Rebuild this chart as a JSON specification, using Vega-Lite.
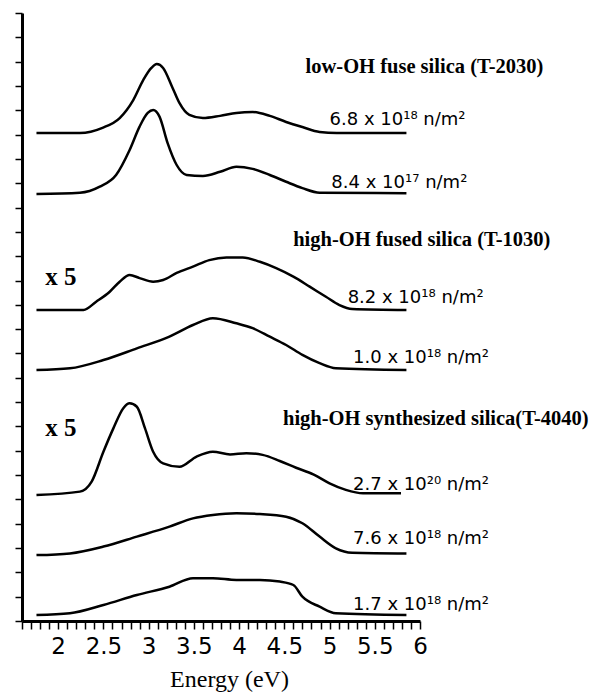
{
  "$schema": "https://vega.github.io/schema/vega-lite/v6.json",
  "width": 398,
  "height": 608,
  "autosize": {"type": "none"},
  "padding": {"left": 22, "top": 13, "right": 174, "bottom": 74},
  "background": "white",
  "config": {"view": {"stroke": null}},
  "datasets": {
    "curves": [
      {"s": "c1", "e": 1.76, "v": 20.07}, {"s": "c1", "e": 2.24, "v": 20.07}, {"s": "c1", "e": 2.49, "v": 20.28}, {"s": "c1", "e": 2.68, "v": 20.68}, {"s": "c1", "e": 2.83, "v": 21.42}, {"s": "c1", "e": 2.94, "v": 22.24}, {"s": "c1", "e": 3.03, "v": 22.74}, {"s": "c1", "e": 3.09, "v": 22.9}, {"s": "c1", "e": 3.16, "v": 22.74}, {"s": "c1", "e": 3.26, "v": 21.96}, {"s": "c1", "e": 3.34, "v": 21.3}, {"s": "c1", "e": 3.45, "v": 20.81}, {"s": "c1", "e": 3.6, "v": 20.68}, {"s": "c1", "e": 3.79, "v": 20.77}, {"s": "c1", "e": 3.97, "v": 20.89}, {"s": "c1", "e": 4.15, "v": 20.93}, {"s": "c1", "e": 4.34, "v": 20.77}, {"s": "c1", "e": 4.52, "v": 20.52}, {"s": "c1", "e": 4.7, "v": 20.31}, {"s": "c1", "e": 4.89, "v": 20.11}, {"s": "c1", "e": 5.08, "v": 20.07}, {"s": "c1", "e": 5.85, "v": 20.07},
      {"s": "c2", "e": 1.76, "v": 17.56}, {"s": "c2", "e": 2.24, "v": 17.61}, {"s": "c2", "e": 2.46, "v": 17.86}, {"s": "c2", "e": 2.64, "v": 18.34}, {"s": "c2", "e": 2.79, "v": 19.37}, {"s": "c2", "e": 2.9, "v": 20.33}, {"s": "c2", "e": 2.99, "v": 20.89}, {"s": "c2", "e": 3.05, "v": 21.01}, {"s": "c2", "e": 3.12, "v": 20.74}, {"s": "c2", "e": 3.21, "v": 19.65}, {"s": "c2", "e": 3.31, "v": 18.75}, {"s": "c2", "e": 3.42, "v": 18.34}, {"s": "c2", "e": 3.6, "v": 18.3}, {"s": "c2", "e": 3.79, "v": 18.47}, {"s": "c2", "e": 3.97, "v": 18.68}, {"s": "c2", "e": 4.15, "v": 18.59}, {"s": "c2", "e": 4.34, "v": 18.34}, {"s": "c2", "e": 4.52, "v": 18.06}, {"s": "c2", "e": 4.7, "v": 17.8}, {"s": "c2", "e": 4.89, "v": 17.61}, {"s": "c2", "e": 5.85, "v": 17.59},
      {"s": "c3", "e": 1.76, "v": 12.79}, {"s": "c3", "e": 2.28, "v": 12.79}, {"s": "c3", "e": 2.42, "v": 13.13}, {"s": "c3", "e": 2.57, "v": 13.54}, {"s": "c3", "e": 2.68, "v": 13.95}, {"s": "c3", "e": 2.79, "v": 14.23}, {"s": "c3", "e": 2.9, "v": 14.1}, {"s": "c3", "e": 3.05, "v": 13.95}, {"s": "c3", "e": 3.16, "v": 14.02}, {"s": "c3", "e": 3.31, "v": 14.31}, {"s": "c3", "e": 3.49, "v": 14.57}, {"s": "c3", "e": 3.67, "v": 14.84}, {"s": "c3", "e": 3.86, "v": 14.95}, {"s": "c3", "e": 4.04, "v": 14.95}, {"s": "c3", "e": 4.23, "v": 14.77}, {"s": "c3", "e": 4.41, "v": 14.51}, {"s": "c3", "e": 4.6, "v": 14.16}, {"s": "c3", "e": 4.78, "v": 13.75}, {"s": "c3", "e": 4.96, "v": 13.33}, {"s": "c3", "e": 5.11, "v": 12.99}, {"s": "c3", "e": 5.25, "v": 12.83}, {"s": "c3", "e": 5.85, "v": 12.79},
      {"s": "c4", "e": 1.76, "v": 10.32}, {"s": "c4", "e": 2.13, "v": 10.39}, {"s": "c4", "e": 2.5, "v": 10.73}, {"s": "c4", "e": 2.87, "v": 11.21}, {"s": "c4", "e": 3.23, "v": 11.69}, {"s": "c4", "e": 3.49, "v": 12.17}, {"s": "c4", "e": 3.71, "v": 12.45}, {"s": "c4", "e": 3.97, "v": 12.24}, {"s": "c4", "e": 4.15, "v": 12.04}, {"s": "c4", "e": 4.34, "v": 11.69}, {"s": "c4", "e": 4.52, "v": 11.35}, {"s": "c4", "e": 4.7, "v": 10.94}, {"s": "c4", "e": 4.89, "v": 10.6}, {"s": "c4", "e": 5.07, "v": 10.39}, {"s": "c4", "e": 5.85, "v": 10.32},
      {"s": "c5", "e": 1.76, "v": 5.18}, {"s": "c5", "e": 2.24, "v": 5.32}, {"s": "c5", "e": 2.37, "v": 5.73}, {"s": "c5", "e": 2.5, "v": 6.96}, {"s": "c5", "e": 2.61, "v": 7.92}, {"s": "c5", "e": 2.72, "v": 8.75}, {"s": "c5", "e": 2.79, "v": 8.95}, {"s": "c5", "e": 2.87, "v": 8.81}, {"s": "c5", "e": 2.96, "v": 7.92}, {"s": "c5", "e": 3.05, "v": 6.96}, {"s": "c5", "e": 3.16, "v": 6.48}, {"s": "c5", "e": 3.34, "v": 6.34}, {"s": "c5", "e": 3.53, "v": 6.76}, {"s": "c5", "e": 3.71, "v": 6.96}, {"s": "c5", "e": 3.9, "v": 6.85}, {"s": "c5", "e": 4.08, "v": 6.9}, {"s": "c5", "e": 4.26, "v": 6.83}, {"s": "c5", "e": 4.45, "v": 6.58}, {"s": "c5", "e": 4.63, "v": 6.3}, {"s": "c5", "e": 4.82, "v": 6.03}, {"s": "c5", "e": 5.0, "v": 5.66}, {"s": "c5", "e": 5.18, "v": 5.39}, {"s": "c5", "e": 5.37, "v": 5.25}, {"s": "c5", "e": 5.79, "v": 5.25},
      {"s": "c6", "e": 1.76, "v": 2.71}, {"s": "c6", "e": 2.13, "v": 2.78}, {"s": "c6", "e": 2.5, "v": 3.06}, {"s": "c6", "e": 2.87, "v": 3.47}, {"s": "c6", "e": 3.23, "v": 3.88}, {"s": "c6", "e": 3.49, "v": 4.22}, {"s": "c6", "e": 3.71, "v": 4.36}, {"s": "c6", "e": 3.97, "v": 4.43}, {"s": "c6", "e": 4.23, "v": 4.4}, {"s": "c6", "e": 4.52, "v": 4.29}, {"s": "c6", "e": 4.7, "v": 4.02}, {"s": "c6", "e": 4.89, "v": 3.47}, {"s": "c6", "e": 5.07, "v": 2.99}, {"s": "c6", "e": 5.25, "v": 2.81}, {"s": "c6", "e": 5.85, "v": 2.78},
      {"s": "c7", "e": 1.76, "v": 0.25}, {"s": "c7", "e": 2.13, "v": 0.32}, {"s": "c7", "e": 2.5, "v": 0.66}, {"s": "c7", "e": 2.87, "v": 1.07}, {"s": "c7", "e": 3.23, "v": 1.41}, {"s": "c7", "e": 3.49, "v": 1.76}, {"s": "c7", "e": 3.71, "v": 1.76}, {"s": "c7", "e": 3.97, "v": 1.69}, {"s": "c7", "e": 4.23, "v": 1.69}, {"s": "c7", "e": 4.45, "v": 1.62}, {"s": "c7", "e": 4.6, "v": 1.48}, {"s": "c7", "e": 4.7, "v": 1.0}, {"s": "c7", "e": 4.89, "v": 0.59}, {"s": "c7", "e": 5.07, "v": 0.32}, {"s": "c7", "e": 5.85, "v": 0.25}
    ],
    "titles": [
      {"t": "low-OH fuse silica (T-2030)", "e": 6.05, "v": 22.78},
      {"t": "high-OH fused silica (T-1030)", "e": 6.02, "v": 15.67},
      {"t": "high-OH synthesized silica(T-4040)", "e": 6.175, "v": 8.31}
    ],
    "nums": [
      {"t": "6.8 x 10¹⁸ n/m²", "e": 5.0, "v": 20.6},
      {"t": "8.4 x 10¹⁷ n/m²", "e": 5.02, "v": 18.03},
      {"t": "8.2 x 10¹⁸ n/m²", "e": 5.2, "v": 13.3},
      {"t": "1.0 x 10¹⁸ n/m²", "e": 5.26, "v": 10.83},
      {"t": "2.7 x 10²⁰ n/m²", "e": 5.26, "v": 5.59},
      {"t": "7.6 x 10¹⁸ n/m²", "e": 5.26, "v": 3.39},
      {"t": "1.7 x 10¹⁸ n/m²", "e": 5.26, "v": 0.64}
    ],
    "mult": [
      {"t": "x 5", "e": 2.03, "v": 14.14},
      {"t": "x 5", "e": 2.03, "v": 7.94}
    ]
  },
  "layer": [
    {
      "data": {"name": "curves"},
      "mark": {"type": "line", "interpolate": "monotone", "color": "black"},
      "encoding": {
        "x": {
          "field": "e", "type": "quantitative",
          "scale": {"domain": [1.6, 6], "nice": false, "zero": false},
          "axis": {
            "values": [1.6, 1.7, 1.8, 1.9, 2.0, 2.1, 2.2, 2.3, 2.4, 2.5, 2.6, 2.7, 2.8, 2.9, 3.0, 3.1, 3.2, 3.3, 3.4, 3.5, 3.6, 3.7, 3.8, 3.9, 4.0, 4.1, 4.2, 4.3, 4.4, 4.5, 4.6, 4.7, 4.8, 4.9, 5.0, 5.1, 5.2, 5.3, 5.4, 5.5, 5.6, 5.7, 5.8, 5.9, 6.0],
            "tickCount": 200,
            "format": ".1~f",
            "labelExpr": "(round(datum.value * 10) % 5 === 0 && datum.value >= 1.95) ? datum.label : ''",
            "tickSize": 8, "tickWidth": 1.5, "tickColor": "black",
            "domainColor": "black", "domainWidth": 3,
            "labelFont": "DejaVu Sans", "labelFontSize": 23, "labelColor": "black",
            "labelPadding": 6, "labelFlush": false, "labelOverlap": false,
            "grid": false,
            "title": "Energy (eV)", "titleFont": "Liberation Serif", "titleFontSize": 24,
            "titleFontWeight": "normal", "titleColor": "black",
            "titleX": 207, "titleY": 46,
            "encode": {"ticks": {"update": {"y2": {"signal": "round(datum.value * 10) % 5 === 0 ? 8 : 5"}}}}
          }
        },
        "y": {
          "field": "v", "type": "quantitative",
          "scale": {"domain": [0, 25], "nice": false},
          "axis": {
            "values": [0, 1, 2, 3, 4, 5, 6, 7, 8, 9, 10, 11, 12, 13, 14, 15, 16, 17, 18, 19, 20, 21, 22, 23, 24, 25],
            "tickCount": 200,
            "labels": false, "tickSize": 7, "tickWidth": 1.5, "tickColor": "black",
            "domainColor": "black", "domainWidth": 3, "grid": false, "title": null,
            "encode": {"ticks": {"update": {"x2": {"signal": "datum.value === 25 ? -12 : -7"}}}}
          }
        },
        "detail": {"field": "s", "type": "nominal"},
        "strokeWidth": {
          "field": "s", "type": "nominal",
          "scale": {"domain": ["c1", "c2", "c3", "c4", "c5", "c6", "c7"], "range": [2.5, 2.5, 3.5, 3.5, 3.5, 3.5, 3.5]},
          "legend": null
        }
      }
    },
    {
      "data": {"name": "titles"},
      "mark": {"type": "text", "font": "Liberation Serif", "fontWeight": "bold", "fontSize": 20.5, "align": "center", "baseline": "middle", "color": "black"},
      "encoding": {
        "x": {"field": "e", "type": "quantitative"},
        "y": {"field": "v", "type": "quantitative"},
        "text": {"field": "t"}
      }
    },
    {
      "data": {"name": "nums"},
      "mark": {"type": "text", "font": "DejaVu Sans", "fontSize": 18, "align": "left", "baseline": "middle", "color": "black"},
      "encoding": {
        "x": {"field": "e", "type": "quantitative"},
        "y": {"field": "v", "type": "quantitative"},
        "text": {"field": "t"}
      }
    },
    {
      "data": {"name": "mult"},
      "mark": {"type": "text", "font": "Liberation Serif", "fontWeight": "bold", "fontSize": 25, "align": "center", "baseline": "middle", "color": "black"},
      "encoding": {
        "x": {"field": "e", "type": "quantitative"},
        "y": {"field": "v", "type": "quantitative"},
        "text": {"field": "t"}
      }
    }
  ]
}
